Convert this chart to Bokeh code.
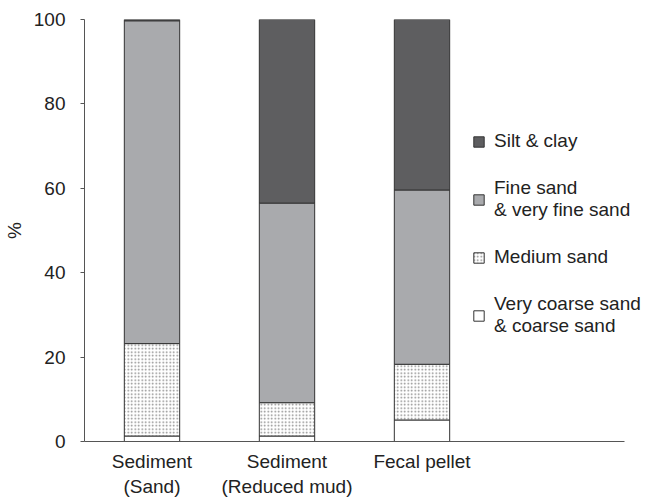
from bokeh.plotting import figure
from bokeh.models import ColumnDataSource, FixedTicker, Legend, LegendItem, Range1d
from bokeh.embed import file_html
from bokeh.resources import INLINE
import numpy as np

categories = ["Sediment\n(Sand)", "Sediment\n(Reduced mud)", "Fecal pellet"]
very_coarse = [1.3, 1.3, 5.1]
medium = [21.9, 7.9, 13.2]
fine = [76.5, 47.3, 41.3]
silt = [0.3, 43.5, 40.4]
y_ticks = [0, 20, 40, 60, 80, 100]

layers = [
    ("Very coarse sand\n& coarse sand", very_coarse, "#ffffff", None),
    ("Medium sand", medium, "#ffffff", "dot"),
    ("Fine sand\n& very fine sand", fine, "#a9aaad", None),
    ("Silt & clay", silt, "#5e5e60", None),
]

xs = [i + 0.5 for i in range(len(categories))]
FONT = "Liberation Sans"
FS = "19px"

p = figure(width=651, height=499, output_backend="svg", toolbar_location=None,
           x_range=Range1d(0, 4.2), y_range=Range1d(0, 100),
           min_border_left=84, min_border_right=0, min_border_top=19, min_border_bottom=58)
p.outline_line_color = None
p.grid.visible = False
p.background_fill_color = "white"

bottom = np.zeros(len(categories))
renderers = {}
for name, vals, color, hatch in layers:
    top = bottom + np.array(vals)
    src = ColumnDataSource(dict(x=xs, bottom=bottom.copy(), top=top))
    kw = {}
    if hatch:
        kw = dict(hatch_pattern=hatch, hatch_color="#888888", hatch_scale=3.5, hatch_weight=0.5)
    r = p.vbar(x="x", bottom="bottom", top="top", width=0.41, source=src,
               fill_color=color, line_color="#333333", line_width=1, **kw)
    renderers[name] = r
    bottom = top

# axes
p.xaxis.ticker = FixedTicker(ticks=xs)
p.xaxis.bounds = (0, 4)
p.xaxis.major_label_overrides = {x: c for x, c in zip(xs, categories)}
p.xaxis.major_tick_line_color = None
p.xaxis.minor_tick_line_color = None
p.xaxis.axis_line_color = "#555555"
p.xaxis.major_label_text_font = FONT
p.xaxis.major_label_text_font_size = FS
p.xaxis.major_label_text_color = "#222222"
p.xaxis.major_label_standoff = 3

p.yaxis.ticker = FixedTicker(ticks=y_ticks)
p.yaxis.minor_tick_line_color = None
p.yaxis.major_tick_in = 0
p.yaxis.major_tick_out = 4
p.yaxis.axis_line_color = "#555555"
p.yaxis.major_tick_line_color = "#555555"
p.yaxis.major_label_text_font = FONT
p.yaxis.major_label_text_font_size = FS
p.yaxis.major_label_text_color = "#222222"
p.yaxis.major_label_standoff = 15
p.yaxis.axis_label = "%"
p.yaxis.axis_label_text_font = FONT
p.yaxis.axis_label_text_font_size = FS
p.yaxis.axis_label_text_font_style = "normal"
p.yaxis.axis_label_text_color = "#222222"
p.yaxis.axis_label_standoff = 6

items = [LegendItem(label=name, renderers=[renderers[name]]) for name, *_ in reversed(layers)]
legend = Legend(items=items, location=(388, 104), border_line_color=None,
                background_fill_alpha=0, glyph_width=13, glyph_height=13,
                label_standoff=9, spacing=25, padding=0, margin=0,
                label_text_font=FONT, label_text_font_size=FS, label_text_color="#222222")
p.add_layout(legend, "center")

open("out.html", "w").write(file_html(p, INLINE))
